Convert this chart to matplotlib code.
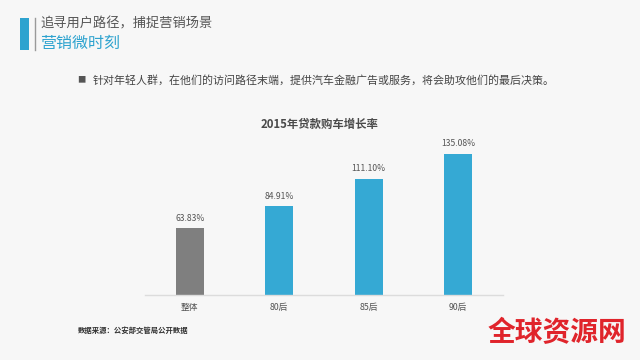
import matplotlib
matplotlib.use('Agg')
import matplotlib.pyplot as plt
from matplotlib.patches import Rectangle
from matplotlib.lines import Line2D

plt.rcParams['font.family'] = ['Noto Sans CJK SC', 'DejaVu Sans']

categories = ['整体', '80后', '85后', '90后']
values = [63.83, 84.91, 111.10, 135.08]
bar_colors = ['#7f7f7f', '#35a9d4', '#35a9d4', '#35a9d4']

bg = '#f7f7f7'
fig = plt.figure(figsize=(6.4, 3.6), dpi=100, facecolor=bg)

# header block
fig.patches.append(Rectangle((20/640, 1-50/360), 9/640, 32/360, transform=fig.transFigure,
                             facecolor='#2ea3cf', edgecolor='none'))
fig.lines.append(Line2D([35/640, 35/640], [1-50/360, 1-18/360], transform=fig.transFigure,
                        color='#9a9a9a', lw=1))
fig.text(40/640, 1-24/360, '追寻用户路径，捕捉营销场景', fontsize=9.5, color='#555555', va='center')
fig.text(40/640, 1-43/360, '营销微时刻', fontsize=11.5, color='#2ea3cf', va='center')

fig.text(77/640, 1-80/360, '■', fontsize=6, color='#555555', va='center')
fig.text(93/640, 1-80/360, '针对年轻人群，在他们的访问路径末端，提供汽车金融广告或服务，将会助攻他们的最后决策。',
         fontsize=7.9, color='#444444', va='center')

fig.text(320/640, 1-124/360, '2015年贷款购车增长率', fontsize=8.2, fontweight='bold',
         color='#4a4a4a', ha='center', va='center')

ax = fig.add_axes([145/640, 65/360, 358/640, 156.6/360])
ax.set_facecolor(bg)
x = range(len(categories))
ax.bar(x, values, width=0.31, color=bar_colors)
for i, v in zip(x, values):
    ax.annotate(f'{v:.2f}%', (i, v), xytext=(0, 4), textcoords='offset points',
                ha='center', va='bottom', fontsize=6.2, color='#555555')
ax.set_xlim(-0.5, 3.5)
ax.set_ylim(0, 150)
ax.set_xticks(list(x))
ax.set_xticklabels(categories, fontsize=6.3, color='#555555')
ax.tick_params(axis='x', length=0, pad=6)
ax.set_yticks([])
for s in ['left', 'top', 'right']:
    ax.spines[s].set_visible(False)
ax.spines['bottom'].set_color('#dcdcdc')
ax.spines['bottom'].set_linewidth(1)

fig.text(78/640, 1-330/360, '数据来源：公安部交管局公开数据', fontsize=5.3, fontweight='bold',
         color='#333333', va='center')

fig.text(557/640, 1-333/360, '全球资源网', fontsize=20, fontweight='bold',
         color='#e0242b', ha='center', va='center')

fig.savefig('out.png', dpi=100, facecolor=bg)
